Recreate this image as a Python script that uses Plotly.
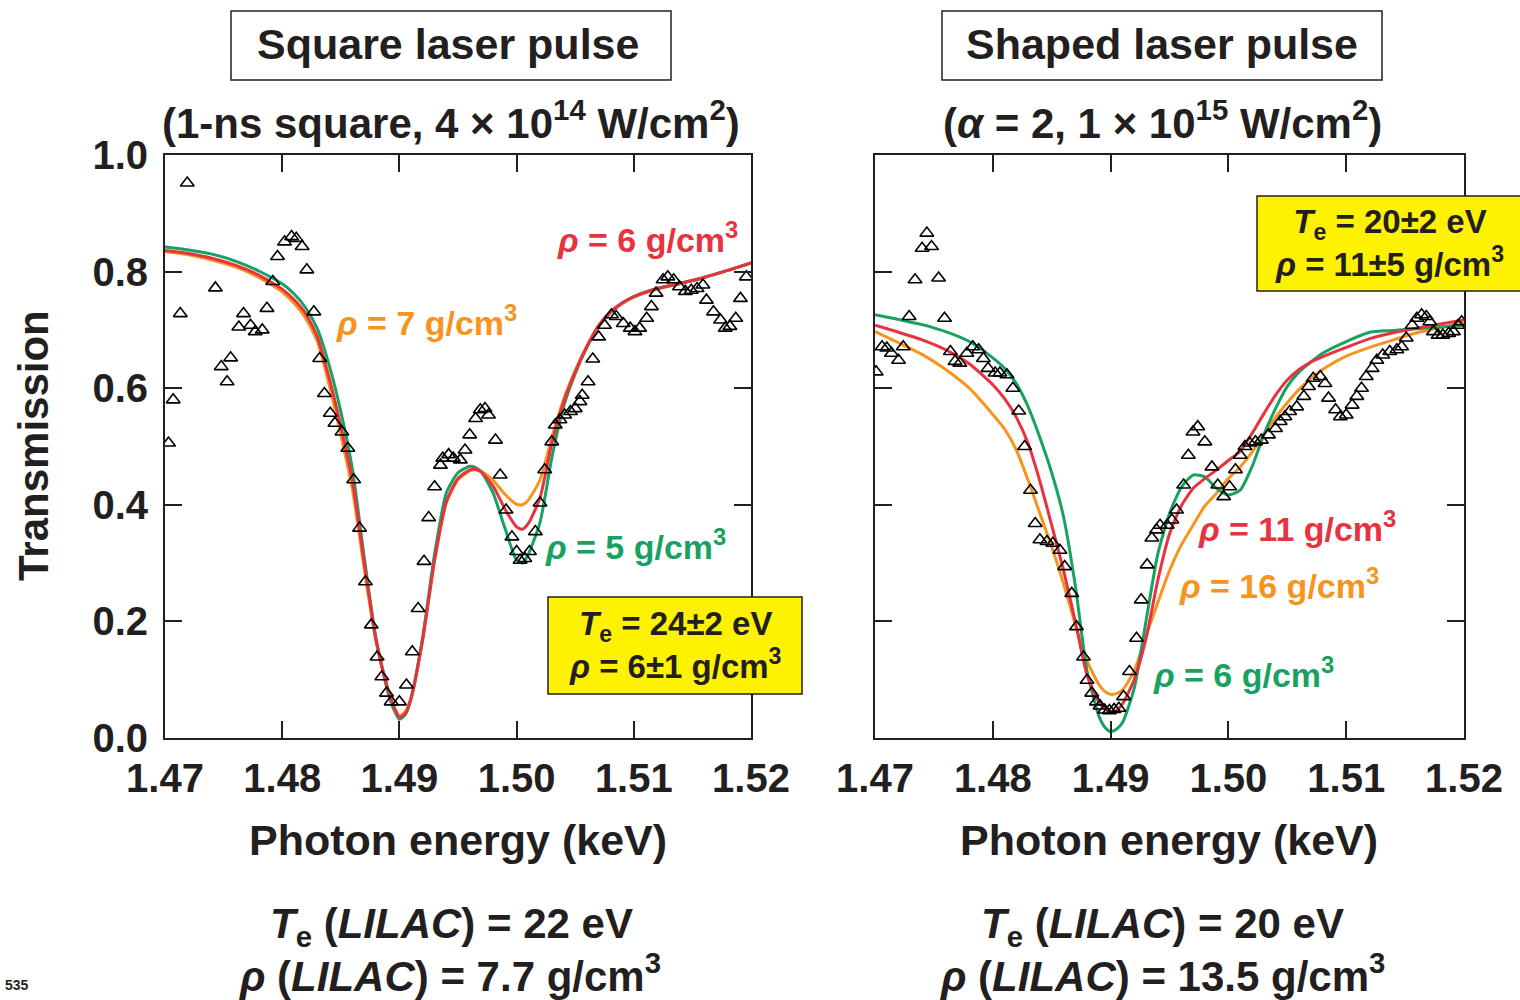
import plotly.graph_objects as go

# ---------------------------------------------------------------------------
# Measured transmission (open triangles)
# ---------------------------------------------------------------------------
square_meas_e = [
    1.4703, 1.4707, 1.4713, 1.4719, 1.4743, 1.4748, 1.4753, 1.4756, 1.4763, 1.4767,
    1.4773, 1.4777, 1.4783, 1.4787, 1.4792, 1.4796, 1.4802, 1.4808, 1.4812, 1.4817,
    1.4821, 1.4827, 1.4832, 1.4836, 1.4841, 1.4845, 1.4851, 1.4856, 1.4861, 1.4866,
    1.4871, 1.4876, 1.4881, 1.4885, 1.4889, 1.4893, 1.4900, 1.4906, 1.4911, 1.4916,
    1.4921, 1.4925, 1.4930, 1.4935, 1.4937, 1.4942, 1.4946, 1.4952, 1.4956, 1.4960,
    1.4965, 1.4969, 1.4973, 1.4976, 1.4982, 1.4986, 1.4991, 1.4996, 1.5000, 1.5003,
    1.5007, 1.5011, 1.5016, 1.5020, 1.5024, 1.5030, 1.5033, 1.5037, 1.5041, 1.5046,
    1.5050, 1.5054, 1.5056, 1.5061, 1.5065, 1.5070, 1.5075, 1.5081, 1.5085, 1.5091,
    1.5097, 1.5101, 1.5105, 1.5111, 1.5115, 1.5119, 1.5125, 1.5129, 1.5134, 1.5139,
    1.5144, 1.5149, 1.5154, 1.5159, 1.5162, 1.5168, 1.5174, 1.5178, 1.5182, 1.5187,
    1.5191, 1.5196,
]
square_meas_t = [
    0.506, 0.580, 0.728, 0.952, 0.772, 0.637, 0.611, 0.652, 0.705, 0.728,
    0.708, 0.697, 0.700, 0.737, 0.783, 0.826, 0.851, 0.860, 0.857, 0.843,
    0.803, 0.731, 0.651, 0.591, 0.557, 0.540, 0.525, 0.497, 0.443, 0.360,
    0.268, 0.194, 0.139, 0.105, 0.077, 0.062, 0.062, 0.091, 0.148, 0.222,
    0.303, 0.378, 0.431, 0.468, 0.480, 0.486, 0.480, 0.477, 0.494, 0.520,
    0.548, 0.563, 0.565, 0.554, 0.511, 0.451, 0.391, 0.345, 0.320, 0.305,
    0.308, 0.320, 0.354, 0.403, 0.460, 0.508, 0.537, 0.546, 0.554, 0.560,
    0.565, 0.577, 0.588, 0.611, 0.650, 0.688, 0.708, 0.726, 0.723, 0.711,
    0.703, 0.697, 0.703, 0.720, 0.740, 0.763, 0.786, 0.791, 0.786, 0.774,
    0.766, 0.768, 0.771, 0.777, 0.751, 0.731, 0.717, 0.703, 0.706, 0.720,
    0.754, 0.791,
]

shaped_meas_e = [
    1.4701, 1.4706, 1.4710, 1.4714, 1.4720, 1.4724, 1.4729, 1.4734, 1.4740, 1.4744,
    1.4748, 1.4754, 1.4759, 1.4764, 1.4768, 1.4772, 1.4778, 1.4783, 1.4788, 1.4792,
    1.4796, 1.4802, 1.4806, 1.4812, 1.4817, 1.4822, 1.4827, 1.4832, 1.4836, 1.4840,
    1.4846, 1.4851, 1.4857, 1.4861, 1.4867, 1.4871, 1.4877, 1.4880, 1.4884, 1.4888,
    1.4891, 1.4895, 1.4899, 1.4903, 1.4907, 1.4911, 1.4916, 1.4922, 1.4926, 1.4931,
    1.4935, 1.4939, 1.4942, 1.4948, 1.4952, 1.4956, 1.4962, 1.4966, 1.4970, 1.4974,
    1.4980, 1.4986, 1.4991, 1.4996, 1.5001, 1.5006, 1.5010, 1.5014, 1.5018, 1.5023,
    1.5028, 1.5034, 1.5040, 1.5044, 1.5048, 1.5052, 1.5058, 1.5064, 1.5068, 1.5072,
    1.5078, 1.5082, 1.5085, 1.5091, 1.5095, 1.5100, 1.5105, 1.5109, 1.5113, 1.5117,
    1.5122, 1.5126, 1.5131, 1.5137, 1.5143, 1.5147, 1.5151, 1.5156, 1.5160, 1.5164,
    1.5168, 1.5171, 1.5174, 1.5178, 1.5182, 1.5187, 1.5191, 1.5195, 1.5198,
]
shaped_meas_t = [
    0.628, 0.671, 0.669, 0.660, 0.648, 0.671, 0.723, 0.786, 0.840, 0.866,
    0.843, 0.789, 0.720, 0.663, 0.646, 0.643, 0.660, 0.671, 0.666, 0.651,
    0.634, 0.626, 0.626, 0.623, 0.600, 0.561, 0.500, 0.425, 0.368, 0.340,
    0.337, 0.334, 0.322, 0.294, 0.248, 0.191, 0.139, 0.099, 0.077, 0.062,
    0.055, 0.048, 0.047, 0.049, 0.051, 0.071, 0.114, 0.171, 0.237, 0.297,
    0.343, 0.357, 0.365, 0.365, 0.374, 0.391, 0.434, 0.485, 0.525, 0.534,
    0.508, 0.465, 0.434, 0.414, 0.431, 0.460, 0.485, 0.500, 0.506, 0.508,
    0.511, 0.520, 0.531, 0.543, 0.551, 0.560, 0.568, 0.586, 0.603, 0.617,
    0.620, 0.608, 0.583, 0.563, 0.551, 0.554, 0.571, 0.586, 0.600, 0.620,
    0.634, 0.648, 0.657, 0.663, 0.666, 0.671, 0.686, 0.708, 0.720, 0.726,
    0.723, 0.714, 0.697, 0.691, 0.691, 0.694, 0.697, 0.708, 0.714,
]

# ---------------------------------------------------------------------------
# Calculated spectra (solid curves)
# ---------------------------------------------------------------------------
square_fit_e = [
    1.470, 1.472, 1.474, 1.476, 1.478, 1.480, 1.481, 1.482, 1.483, 1.484,
    1.485, 1.486, 1.487, 1.488, 1.489, 1.4895, 1.490, 1.4905, 1.491, 1.492,
    1.493, 1.494, 1.495, 1.496, 1.4965, 1.497, 1.498, 1.499, 1.500, 1.5005,
    1.501, 1.502, 1.503, 1.504, 1.505, 1.506, 1.507, 1.508, 1.509, 1.510,
    1.512, 1.514, 1.516, 1.518, 1.520,
]
square_rho6 = [
    0.836, 0.831, 0.823, 0.811, 0.794, 0.770, 0.752, 0.728, 0.688, 0.618,
    0.535, 0.440, 0.300, 0.170, 0.085, 0.055, 0.036, 0.042, 0.068, 0.170,
    0.305, 0.405, 0.445, 0.460, 0.461, 0.456, 0.432, 0.393, 0.362, 0.358,
    0.368, 0.412, 0.505, 0.575, 0.628, 0.672, 0.708, 0.731, 0.746, 0.757,
    0.771, 0.780, 0.790, 0.802, 0.815,
]
square_rho7 = [
    0.834, 0.829, 0.820, 0.808, 0.790, 0.765, 0.746, 0.720, 0.680, 0.606,
    0.520, 0.425, 0.290, 0.165, 0.085, 0.055, 0.038, 0.045, 0.070, 0.172,
    0.305, 0.403, 0.443, 0.458, 0.460, 0.457, 0.442, 0.418, 0.401, 0.400,
    0.408, 0.443, 0.515, 0.580, 0.630, 0.672, 0.706, 0.729, 0.745, 0.756,
    0.770, 0.780, 0.790, 0.802, 0.815,
]
square_rho5 = [
    0.842, 0.837, 0.830, 0.818, 0.801, 0.779, 0.762, 0.738, 0.702, 0.640,
    0.560, 0.460, 0.310, 0.170, 0.080, 0.050, 0.032, 0.040, 0.068, 0.175,
    0.315, 0.420, 0.455, 0.466, 0.464, 0.456, 0.420, 0.360, 0.305, 0.300,
    0.315, 0.370, 0.480, 0.568, 0.625, 0.670, 0.706, 0.730, 0.746, 0.757,
    0.771, 0.780, 0.790, 0.802, 0.815,
]

shaped_fit_e = [
    1.470, 1.472, 1.474, 1.476, 1.478, 1.480, 1.481, 1.482, 1.483, 1.484,
    1.485, 1.486, 1.487, 1.488, 1.489, 1.4895, 1.490, 1.4905, 1.491, 1.492,
    1.493, 1.494, 1.495, 1.496, 1.497, 1.498, 1.499, 1.500, 1.501, 1.502,
    1.503, 1.504, 1.505, 1.506, 1.507, 1.508, 1.510, 1.512, 1.514, 1.516,
    1.518, 1.520,
]
shaped_rho11 = [
    0.708, 0.696, 0.683, 0.666, 0.642, 0.606, 0.582, 0.550, 0.505, 0.440,
    0.365, 0.288, 0.200, 0.108, 0.062, 0.050, 0.045, 0.047, 0.058, 0.100,
    0.170, 0.270, 0.350, 0.398, 0.428, 0.445, 0.460, 0.476, 0.492, 0.522,
    0.556, 0.588, 0.614, 0.632, 0.645, 0.654, 0.670, 0.685, 0.695, 0.703,
    0.710, 0.717,
]
shaped_rho16 = [
    0.697, 0.678, 0.658, 0.632, 0.600, 0.555, 0.530, 0.494, 0.442, 0.385,
    0.328, 0.265, 0.195, 0.132, 0.092, 0.080, 0.075, 0.076, 0.082, 0.115,
    0.175, 0.232, 0.287, 0.331, 0.365, 0.398, 0.420, 0.445, 0.465, 0.490,
    0.520, 0.550, 0.575, 0.598, 0.617, 0.632, 0.655, 0.670, 0.683, 0.695,
    0.704, 0.712,
]
shaped_rho6 = [
    0.726, 0.718, 0.709, 0.697, 0.680, 0.652, 0.634, 0.608, 0.568, 0.515,
    0.455, 0.380, 0.262, 0.115, 0.038, 0.019, 0.011, 0.015, 0.026, 0.085,
    0.200, 0.315, 0.385, 0.430, 0.451, 0.448, 0.428, 0.417, 0.425, 0.465,
    0.520, 0.565, 0.603, 0.628, 0.645, 0.660, 0.680, 0.696, 0.699, 0.702,
    0.705, 0.708,
]

energy_ticks = [1.47, 1.48, 1.49, 1.50, 1.51, 1.52]
energy_labels = ["1.47", "1.48", "1.49", "1.50", "1.51", "1.52"]
trans_ticks = [0.0, 0.2, 0.4, 0.6, 0.8, 1.0]
trans_labels = ["0.0", "0.2", "0.4", "0.6", "0.8", "1.0"]

RED = "#e8323f"
ORANGE = "#f7941d"
GREEN = "#17a261"
INK = "#231f20"
YELLOW = "#fff200"
FONT = "Liberation Sans"

W, H = 1520, 1000


def px(x):
    return x / W


def py(y):
    return 1 - y / H


fig = go.Figure()


def add_panel(xa, ya, e_fit, curves, e_meas, t_meas):
    for ys, col in curves:
        fig.add_trace(go.Scatter(
            x=e_fit, y=ys, mode="lines", xaxis=xa, yaxis=ya,
            line=dict(color=col, width=3, shape="spline", smoothing=0.6),
            hoverinfo="skip",
        ))
    fig.add_trace(go.Scatter(
        x=e_meas, y=t_meas, mode="markers", xaxis=xa, yaxis=ya,
        marker=dict(symbol="triangle-up-open", size=12, color="black",
                    line=dict(width=1.6, color="black")),
        hoverinfo="skip",
    ))


add_panel("x", "y", square_fit_e,
          [(square_rho7, ORANGE), (square_rho5, GREEN), (square_rho6, RED)],
          square_meas_e, square_meas_t)
add_panel("x2", "y2", shaped_fit_e,
          [(shaped_rho16, ORANGE), (shaped_rho6, GREEN), (shaped_rho11, RED)],
          shaped_meas_e, shaped_meas_t)

axis_common = dict(
    showgrid=False, zeroline=False, showline=True, linewidth=2, linecolor=INK,
    ticks="inside", ticklen=17, tickwidth=2, tickcolor=INK, mirror="ticks",
    automargin=False,
    tickfont=dict(family=FONT, size=40, color=INK, weight="bold"),
)

fig.update_layout(
    width=W, height=H,
    margin=dict(l=0, r=0, t=0, b=0, pad=0, autoexpand=False),
    paper_bgcolor="white", plot_bgcolor="white",
    showlegend=False,
    xaxis=dict(domain=[px(165), px(751)], range=[1.47, 1.52], anchor="y",
               tickvals=energy_ticks, ticktext=energy_labels,
               ticklabelstandoff=4, **axis_common),
    yaxis=dict(domain=[py(738), py(155)], range=[0, 1], anchor="x",
               tickvals=trans_ticks, ticktext=trans_labels,
               ticklabelstandoff=7, **axis_common),
    xaxis2=dict(domain=[px(875), px(1464)], range=[1.47, 1.52], anchor="y2",
                tickvals=energy_ticks, ticktext=energy_labels,
                ticklabelstandoff=4, **axis_common),
    yaxis2=dict(domain=[py(738), py(155)], range=[0, 1], anchor="x2",
                tickvals=trans_ticks, showticklabels=False, **axis_common),
)

shapes = [
    # panel headings
    dict(type="rect", xref="paper", yref="paper", x0=px(231), x1=px(671),
         y0=py(80), y1=py(11), line=dict(color=INK, width=1.5)),
    dict(type="rect", xref="paper", yref="paper", x0=px(942), x1=px(1382),
         y0=py(80), y1=py(11), line=dict(color=INK, width=1.5)),
    # fit result boxes
    dict(type="rect", xref="paper", yref="paper", x0=px(548), x1=px(802),
         y0=py(694), y1=py(597), fillcolor=YELLOW, line=dict(color=INK, width=1.5)),
    dict(type="rect", xref="paper", yref="paper", x0=px(1257), x1=px(1530),
         y0=py(291), y1=py(196), fillcolor=YELLOW, line=dict(color=INK, width=1.5)),
]
fig.update_layout(shapes=shapes)


def label(x, y, text, size, color=INK, angle=0):
    fig.add_annotation(
        x=px(x), y=py(y), xref="paper", yref="paper", text=text,
        showarrow=False, xanchor="center", yanchor="middle", textangle=angle,
        font=dict(family=FONT, size=size, color=color, weight="bold"),
    )


# headings
label(448, 44, "Square laser pulse", 43)
label(1162, 44, "Shaped laser pulse", 43)
label(451, 120, "(1-ns square, 4 × 10<sup>14</sup> W/cm<sup>2</sup>)", 42)
label(1162, 120, "(<i>α</i> = 2, 1 × 10<sup>15</sup> W/cm<sup>2</sup>)", 42)

# axis titles
label(458, 840, "Photon energy (keV)", 43)
label(1169, 840, "Photon energy (keV)", 43)
label(34, 446, "Transmission", 42, angle=-90)

# curve labels, square pulse
label(647, 237, "<i>ρ</i> = 6 g/cm<sup>3</sup>", 34, RED)
label(426, 321, "<i>ρ</i> = 7 g/cm<sup>3</sup>", 34, ORANGE)
label(635, 544, "<i>ρ</i> = 5 g/cm<sup>3</sup>", 34, GREEN)

# curve labels, shaped pulse
label(1297, 526, "<i>ρ</i> = 11 g/cm<sup>3</sup>", 34, RED)
label(1279, 583, "<i>ρ</i> = 16 g/cm<sup>3</sup>", 34, ORANGE)
label(1243, 672, "<i>ρ</i> = 6 g/cm<sup>3</sup>", 34, GREEN)

# fit results
label(675, 645, "<i>T</i><sub>e</sub> = 24±2 eV<br><i>ρ</i> = 6±1 g/cm<sup>3</sup>", 33)
label(1389, 243, "<i>T</i><sub>e</sub> = 20±2 eV<br><i>ρ</i> = 11±5 g/cm<sup>3</sup>", 33)

# simulation values
label(451, 926, "<i>T</i><sub>e</sub> (<i>LILAC</i>) = 22 eV", 42)
label(450, 973, "<i>ρ</i> (<i>LILAC</i>) = 7.7 g/cm<sup>3</sup>", 42)
label(1162, 926, "<i>T</i><sub>e</sub> (<i>LILAC</i>) = 20 eV", 42)
label(1162, 973, "<i>ρ</i> (<i>LILAC</i>) = 13.5 g/cm<sup>3</sup>", 42)

label(17, 985, "535", 14)

fig.write_html("out.html")
